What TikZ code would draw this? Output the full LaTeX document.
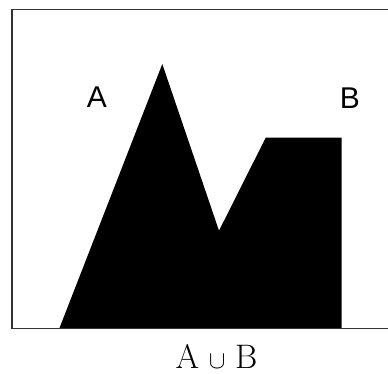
\documentclass[tikz,border=0pt]{standalone}
\usepackage{fontspec}
\newfontfamily\labelfont{Liberation Sans}
\begin{document}
\begin{tikzpicture}[x=1pt,y=-1pt,
  frame/.style={draw=black!80,line width=1.6pt},
  setlabel/.style={font=\labelfont\fontsize{30}{30}\selectfont,inner sep=0pt}]
\useasboundingbox (0,0) rectangle (388,374);
\fill[white] (0,0) rectangle (388,374);
\fill[black] (59.3,328.5) -- (162.3,64) -- (219,230.7) -- (265.7,137.7) -- (341.5,137.7) -- (341.5,328.5) -- cycle;
\coordinate (tr) at (392,9.5);
\coordinate (tl) at (12,9.5);
\coordinate (bl) at (12,328.5);
\coordinate (br) at (392,328.5);
\draw[frame] (tr) -- (tl) -- (bl) -- (br);
\node[setlabel] (A) at (97,97) {A};
\node[setlabel] (B) at (350,98) {B};
\node[inner sep=0pt,font=\fontsize{34}{34}\selectfont] (U) at (216.5,356) {$\mathrm{A}\mathbin{\,\cup\,}\mathrm{B}$};
\end{tikzpicture}
\end{document}
